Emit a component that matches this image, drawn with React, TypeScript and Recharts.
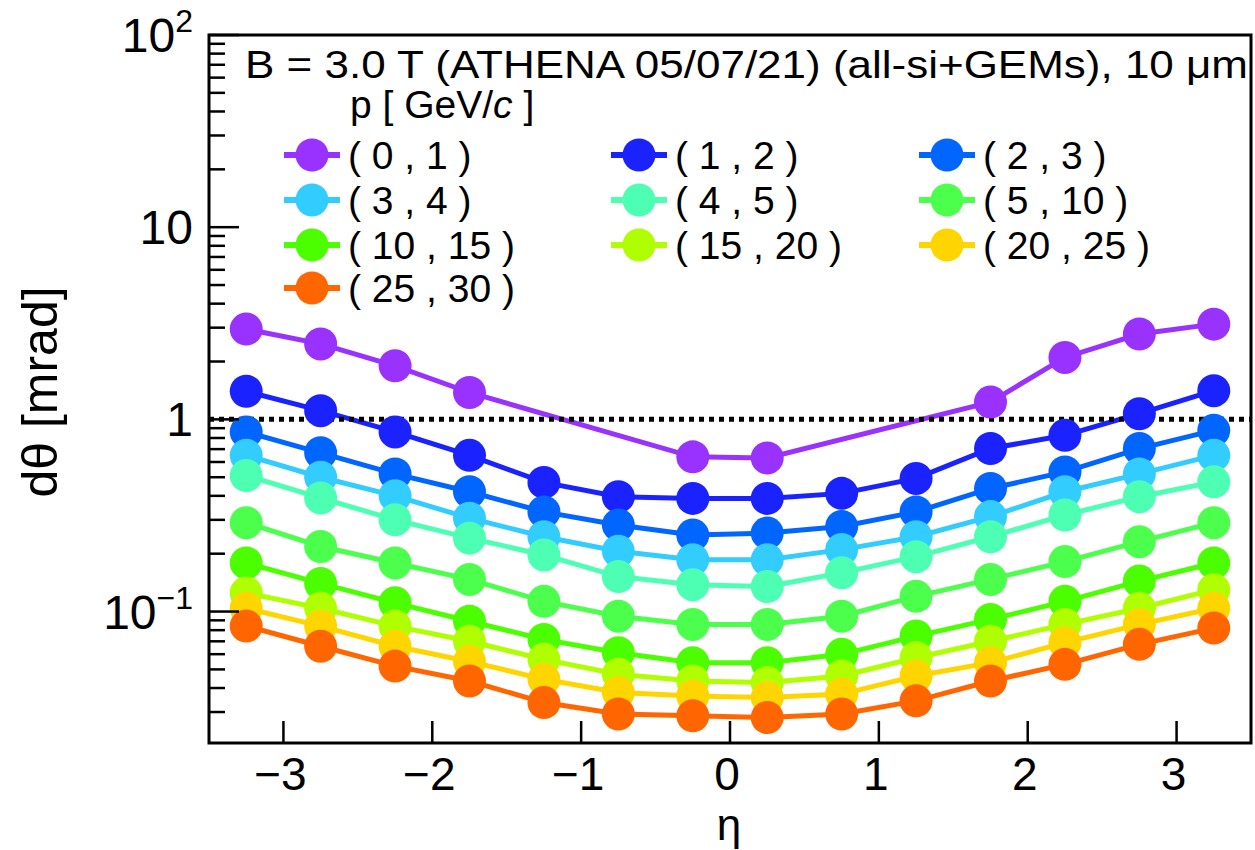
import React from 'react';
import { LineChart, Line, XAxis, YAxis, ReferenceLine, ReferenceArea, Legend } from 'recharts';

// pseudorapidity bin centres
const etaBins = [-3.25, -2.75, -2.25, -1.75, -1.25, -0.75, -0.25, 0.25, 0.75, 1.25, 1.75, 2.25, 2.75, 3.25];

// dθ [mrad] per momentum bin
const p0to1 = [2.95, 2.47, 1.9, 1.38, null, null, 0.638, 0.63, null, null, 1.23, 2.1, 2.78, 3.13];
const p1to2 = [1.4, 1.11, 0.86, 0.65, 0.47, 0.396, 0.388, 0.388, 0.412, 0.493, 0.705, 0.826, 1.07, 1.41];
const p2to3 = [0.86, 0.67, 0.52, 0.42, 0.33, 0.282, 0.25, 0.256, 0.277, 0.33, 0.437, 0.533, 0.705, 0.877];
const p3to4 = [0.65, 0.5, 0.4, 0.306, 0.245, 0.206, 0.186, 0.186, 0.21, 0.245, 0.312, 0.42, 0.52, 0.65];
const p4to5 = [0.51, 0.39, 0.3, 0.241, 0.197, 0.152, 0.138, 0.135, 0.159, 0.193, 0.245, 0.318, 0.396, 0.473];
const p5to10 = [0.29, 0.218, 0.179, 0.147, 0.113, 0.0946, 0.0857, 0.0857, 0.0946, 0.12, 0.147, 0.182, 0.231, 0.29];
const p10to15 = [0.179, 0.14, 0.111, 0.089, 0.0716, 0.0611, 0.0542, 0.0542, 0.0599, 0.0745, 0.091, 0.113, 0.144, 0.179];
const p15to20 = [0.125, 0.104, 0.084, 0.07, 0.0564, 0.0472, 0.0435, 0.0427, 0.0462, 0.0575, 0.07, 0.0857, 0.104, 0.13];
const p20to25 = [0.104, 0.084, 0.066, 0.055, 0.0444, 0.0379, 0.0364, 0.0357, 0.0372, 0.0462, 0.0542, 0.0689, 0.0857, 0.104];
const p25to30 = [0.084, 0.066, 0.052, 0.0435, 0.0336, 0.0293, 0.0287, 0.0281, 0.0293, 0.0343, 0.0435, 0.0531, 0.0675, 0.082];

const binLabels = ['( 0 , 1 )', '( 1 , 2 )', '( 2 , 3 )', '( 3 , 4 )', '( 4 , 5 )', '( 5 , 10 )', '( 10 , 15 )', '( 15 , 20 )', '( 20 , 25 )', '( 25 , 30 )'];
const binColors = ['#9932ff', '#1a22ff', '#0066ff', '#33ccff', '#4dffb3', '#4dff4d', '#4cff00', '#b0ff00', '#ffd500', '#ff6600'];
const binValues = [p0to1, p1to2, p2to3, p3to4, p4to5, p5to10, p10to15, p15to20, p20to25, p25to30];

const xTicks = [-3, -2, -1, 0, 1, 2, 3];
const yMajor = [0.1, 1, 10, 100];
const yTicks = [
  0.03, 0.04, 0.05, 0.06, 0.07, 0.08, 0.09, 0.1,
  0.2, 0.3, 0.4, 0.5, 0.6, 0.7, 0.8, 0.9, 1,
  2, 3, 4, 5, 6, 7, 8, 9, 10,
  20, 30, 40, 50, 60, 70, 80, 90, 100,
];

const FONT = '"Liberation Sans", Arial, Helvetica, sans-serif';
const W = 1255;
const H = 850;
const PLOT_LEFT = 209;
const PLOT_TOP = 35;
const PLOT_BOTTOM = 743;
const Y_MIN = 0.0207;

const data = etaBins.map((eta, i) => {
  const row: Record<string, number | null> = { eta };
  binValues.forEach((vals, k) => {
    row[`s${k}`] = vals[i];
  });
  return row;
});

function YTick({ y, payload }: any) {
  const v = payload.value;
  const major = yMajor.includes(v);
  let label: React.ReactNode = null;
  if (major) {
    const lx = 193;
    const ly = y + 17;
    if (v === 100) {
      label = (
        <text x={lx} y={ly} textAnchor="end" fontFamily={FONT} fontSize={48} fill="#000">
          10<tspan dy={-20} fontSize={32}>2</tspan>
        </text>
      );
    } else if (v === 0.1) {
      label = (
        <text x={lx} y={ly} textAnchor="end" fontFamily={FONT} fontSize={48} fill="#000">
          10<tspan dy={-20} fontSize={32}>{'\u22121'}</tspan>
        </text>
      );
    } else {
      label = (
        <text x={lx} y={ly} textAnchor="end" fontFamily={FONT} fontSize={48} fill="#000">
          {String(v)}
        </text>
      );
    }
  }
  return (
    <g>
      <line x1={PLOT_LEFT} x2={PLOT_LEFT + (major ? 30 : 16)} y1={y} y2={y} stroke="#000" strokeWidth={2.5} />
      {label}
    </g>
  );
}

function XTick({ x, payload }: any) {
  const v = payload.value;
  const txt = v < 0 ? `\u2212${Math.abs(v)}` : String(v);
  return (
    <g>
      <line x1={x} x2={x} y1={PLOT_BOTTOM} y2={PLOT_BOTTOM - 22} stroke="#000" strokeWidth={2.5} />
      <text x={x - 3} y={790} textAnchor="middle" fontFamily={FONT} fontSize={46} fill="#000">
        {txt}
      </text>
    </g>
  );
}

const legendCols = [312, 639, 947];
const legendRows = [155, 200, 245, 288];

function LegendBox() {
  return (
    <svg width={W} height={320} style={{ display: 'block' }}>
      <text x={245} y={78} fontFamily={FONT} fontSize={39} fill="#000" textLength={1003} lengthAdjust="spacingAndGlyphs">
        B = 3.0 T (ATHENA 05/07/21) (all-si+GEMs), 10 μm
      </text>
      <text x={350} y={118} fontFamily={FONT} fontSize={39} fill="#000">
        p [ GeV/<tspan fontStyle="italic">c</tspan> ]
      </text>
      {binLabels.map((lab, k) => {
        const cx = legendCols[k % 3];
        const cy = legendRows[Math.floor(k / 3)];
        return (
          <g key={lab}>
            <line x1={cx - 28} x2={cx + 28} y1={cy} y2={cy} stroke={binColors[k]} strokeWidth={6} />
            <circle cx={cx} cy={cy} r={16.5} fill={binColors[k]} />
            <text x={cx + 36} y={cy + 14} fontFamily={FONT} fontSize={39} fill="#000">
              {lab}
            </text>
          </g>
        );
      })}
    </svg>
  );
}

export default function App() {
  return (
    <div style={{ position: 'absolute', left: 0, top: 0, width: W, height: H, background: '#fff' }}>
      <LineChart width={W} height={H} data={data} margin={{ top: PLOT_TOP, right: 4, bottom: 0, left: 0 }}>
        <XAxis
          dataKey="eta"
          type="number"
          domain={[-3.5, 3.5]}
          ticks={xTicks}
          interval={0}
          height={107}
          axisLine={false}
          tickLine={false}
          tick={<XTick />}
          allowDataOverflow
          label={{
            content: () => (
              <text x={729} y={840} textAnchor="middle" fontFamily={FONT} fontSize={44} fill="#000">
                η
              </text>
            ),
          }}
        />
        <YAxis
          type="number"
          scale="log"
          domain={[Y_MIN, 100]}
          ticks={yTicks}
          interval={0}
          width={PLOT_LEFT}
          axisLine={false}
          tickLine={false}
          tick={<YTick />}
          allowDataOverflow
          label={{
            content: () => (
              <text
                x={57}
                y={392}
                transform="rotate(-90 57 392)"
                textAnchor="middle"
                fontFamily={FONT}
                fontSize={50}
                fill="#000"
              >
                dθ [mrad]
              </text>
            ),
          }}
        />
        {binValues.map((_, k) => (
          <Line
            key={k}
            dataKey={`s${k}`}
            type="linear"
            stroke={binColors[k]}
            strokeWidth={5}
            dot={{ r: 16.5, fill: binColors[k], stroke: binColors[k], strokeWidth: 0 }}
            connectNulls
            isAnimationActive={false}
          />
        ))}
        <ReferenceLine y={1} stroke="#000" strokeWidth={5} strokeDasharray="5 5" />
        <ReferenceArea x1={-3.5} x2={3.5} y1={Y_MIN} y2={100} fill="none" stroke="#000" strokeWidth={3} />
        <Legend
          layout="horizontal"
          verticalAlign="middle"
          align="center"
          wrapperStyle={{ left: 0, top: 0, width: W, height: 320 }}
          content={() => <LegendBox />}
        />
      </LineChart>
    </div>
  );
}
